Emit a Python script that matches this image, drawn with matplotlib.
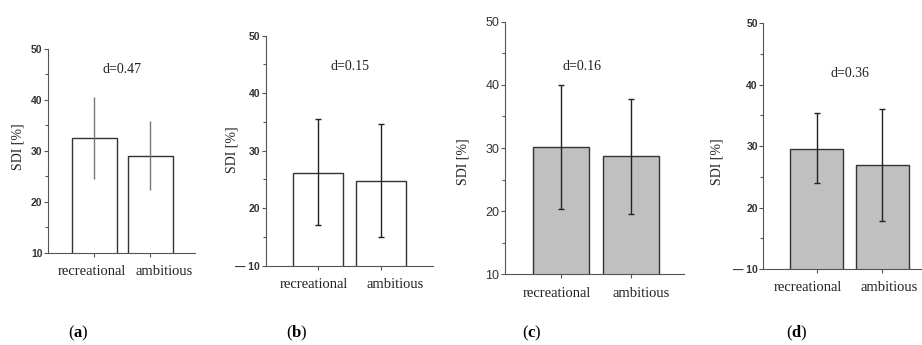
import numpy as np
import matplotlib
matplotlib.use('Agg')
import matplotlib.pyplot as plt
import matplotlib.transforms as mtransforms
from matplotlib.ticker import MultipleLocator

# data
groups = ['recreational', 'ambitious']
panel_tags = ['a', 'b', 'c', 'd']
means_a = [32.6, 29.1]
lo_a = [24.5, 22.4]
hi_a = [40.6, 35.8]
means_b = [26.2, 24.7]
lo_b = [17.0, 15.0]
hi_b = [35.5, 34.6]
means_c = [30.1, 28.7]
lo_c = [20.3, 19.5]
hi_c = [40.0, 37.7]
means_d = [29.6, 26.9]
lo_d = [24.0, 17.8]
hi_d = [35.4, 36.0]
effect_sizes = ['d=0.47', 'd=0.15', 'd=0.16', 'd=0.36']
yticks = [10, 20, 30, 40, 50]
ytick_labels = ['10', '20', '30', '40', '50']
ytick_labels_dash = ['\u2014 10', '20', '30', '40', '50']

serif = 'Liberation Serif'
sans = 'Liberation Sans'
plt.rcParams['mathtext.fontset'] = 'custom'
plt.rcParams['mathtext.rm'] = 'Liberation Serif'
plt.rcParams['mathtext.bf'] = 'Liberation Serif:bold'

fig = plt.figure(figsize=(9.22, 3.45), dpi=100)

# axes rectangles in figure fraction
rects = [
    [0.0521, 0.2667, 0.1594, 0.5913],
    [0.2882, 0.2299, 0.1811, 0.6667],
    [0.5477, 0.2049, 0.1941, 0.7322],
    [0.8279, 0.2203, 0.1721, 0.7122],
]
xlims = [(0.17, 2.8), (0.164, 2.82), (0.197, 2.765), (0.19, 2.6)]
fills = ['white', 'white', '#c0c0c0', '#c0c0c0']
err_cols = ['#777777', '#222222', '#222222', '#222222']
caps = [0, 2, 2, 2]
tick_sets = [ytick_labels, ytick_labels_dash, ytick_labels, ytick_labels_dash]
tick_weights = ['bold', 'bold', 'normal', 'bold']
tick_sizes = [7.5, 7.5, 9, 7.5]
# x shift (pixels) of the category labels relative to bar centres
label_shift = [(-3, 14), (-4.5, 13.5), (-4.5, 10), (-8.5, 7)]
d_pos = [(1.5, 45.9), (1.5, 44.6), (1.3, 42.9), (1.5, 41.9)]
ylab_pos = [(0.019, 0.574), (0.252, 0.565), (0.502, 0.530), (0.778, 0.530)]
tag_x = [0.085, 0.322, 0.577, 0.864]

all_means = [means_a, means_b, means_c, means_d]
all_lo = [lo_a, lo_b, lo_c, lo_d]
all_hi = [hi_a, hi_b, hi_c, hi_d]

x = np.arange(1, len(groups) + 1)
for i in range(4):
    ax = fig.add_axes(rects[i])
    m = np.array(all_means[i])
    yerr = [m - np.array(all_lo[i]), np.array(all_hi[i]) - m]
    ax.bar(x, m, width=0.8, bottom=0, color=fills[i], edgecolor='#333333', linewidth=1.0)
    ax.errorbar(x, m, yerr=yerr, fmt='none', ecolor=err_cols[i], elinewidth=1.0,
                capsize=caps[i], capthick=1.0)
    ax.set_ylim(10, 50)
    ax.set_xlim(*xlims[i])
    ax.spines['top'].set_visible(False)
    ax.spines['right'].set_visible(False)
    ax.spines['left'].set_color('#555555')
    ax.spines['bottom'].set_color('#555555')
    ax.set_yticks(yticks)
    ax.set_yticklabels(tick_sets[i], fontfamily=sans, fontsize=tick_sizes[i],
                       fontweight=tick_weights[i], color='#333333')
    ax.yaxis.set_minor_locator(MultipleLocator(5))
    ax.tick_params(axis='y', which='major', length=3, width=0.8, color='#555555', pad=1)
    ax.tick_params(axis='y', which='minor', length=2, width=0.8, color='#555555')
    ax.set_xticks(x)
    ax.set_xticklabels(groups, fontfamily=serif, fontsize=10.5, color='#222222')
    ax.tick_params(axis='x', length=3, width=0.8, color='#555555', pad=6)
    for lab, dx in zip(ax.get_xticklabels(), label_shift[i]):
        lab.set_transform(lab.get_transform() + mtransforms.ScaledTranslation(dx / 100, 0, fig.dpi_scale_trans))
    ax.text(d_pos[i][0], d_pos[i][1], effect_sizes[i], ha='center', va='center',
            fontfamily=serif, fontsize=10, color='#222222')
    fig.text(ylab_pos[i][0], ylab_pos[i][1], 'SDI [%]', rotation=90, ha='center', va='center',
             fontfamily=serif, fontsize=10, color='#222222')
    fig.text(tag_x[i], 1 - 333 / 345, '($\\mathbf{%s}$)' % panel_tags[i], ha='center', va='center',
             fontfamily=serif, fontsize=12)

fig.savefig('out.png', dpi=100)
